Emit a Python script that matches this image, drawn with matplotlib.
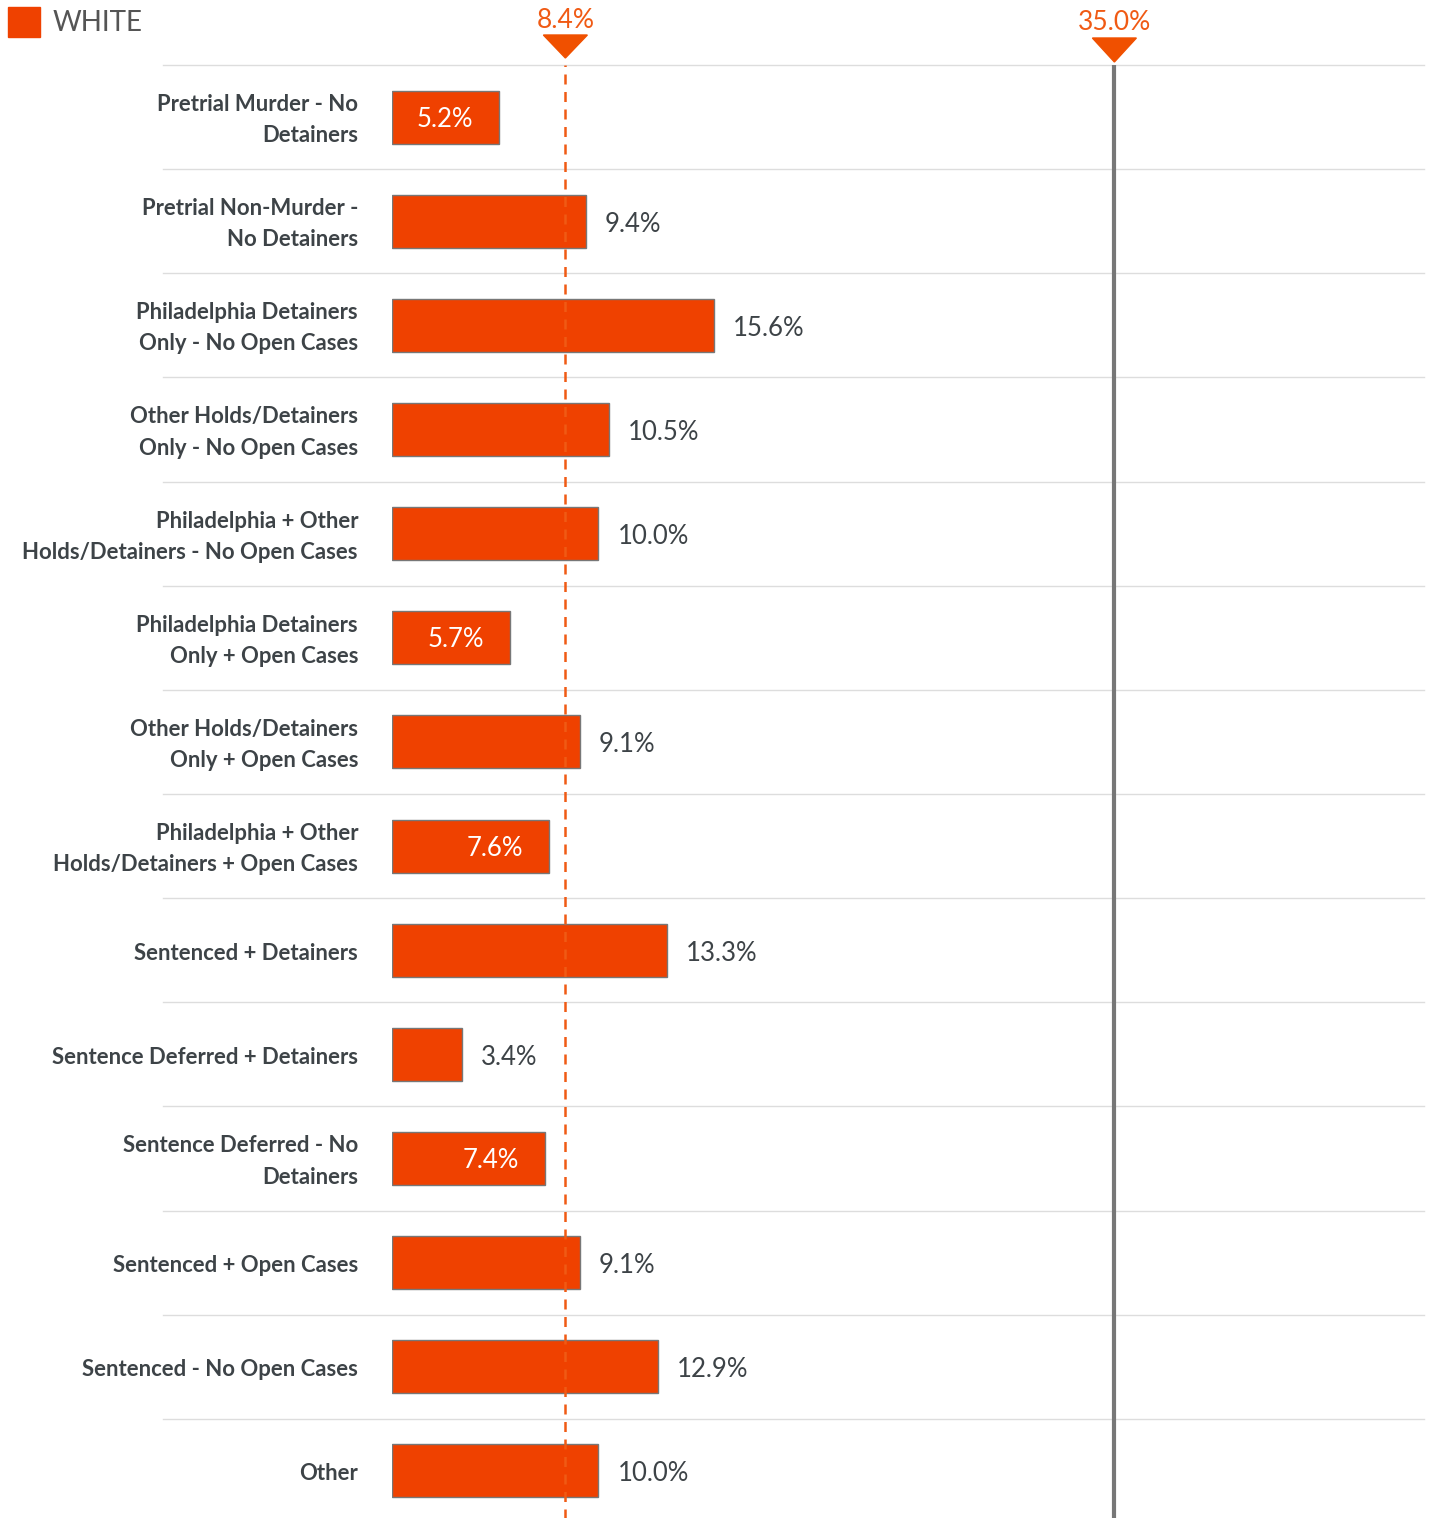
import numpy as np
import matplotlib.pyplot as plt
from matplotlib.transforms import blended_transform_factory

# データ
categories = [
    'Pretrial Murder - No\nDetainers',
    'Pretrial Non-Murder -\nNo Detainers',
    'Philadelphia Detainers\nOnly - No Open Cases',
    'Other Holds/Detainers\nOnly - No Open Cases',
    'Philadelphia + Other\nHolds/Detainers - No Open Cases',
    'Philadelphia Detainers\nOnly + Open Cases',
    'Other Holds/Detainers\nOnly + Open Cases',
    'Philadelphia + Other\nHolds/Detainers + Open Cases',
    'Sentenced + Detainers',
    'Sentence Deferred + Detainers',
    'Sentence Deferred - No\nDetainers',
    'Sentenced + Open Cases',
    'Sentenced - No Open Cases',
    'Other',
]
values = [5.2, 9.4, 15.6, 10.5, 10.0, 5.7, 9.1, 7.6, 13.3, 3.4, 7.4, 9.1, 12.9, 10.0]
inside_label = [True, False, False, False, False, True, False, True, False, False, True, False, False, False]
ref_avg = 8.4
ref_target = 35.0
series_name = 'WHITE'

bar_color = '#EF4100'
accent = '#F05A14'
text_color = '#3D4347'

plt.rcParams['font.family'] = ['Lato', 'DejaVu Sans']

W, H = 1431, 1518
fig = plt.figure(figsize=(W / 100, H / 100), dpi=100)
ax = fig.add_axes([392 / W, -5 / H, 1032 / W, 1458 / H])

y = np.arange(len(categories))
ax.barh(y, values, height=0.51, color=bar_color, edgecolor='#777777', linewidth=1.0, zorder=3)
ax.set_xlim(0, 50)
ax.set_ylim(len(categories) - 0.5, -0.5)
ax.axis('off')

# 行の区切り線（ラベル領域まで伸ばす）
trans = blended_transform_factory(ax.transAxes, ax.transData)
for i in range(len(categories)):
    ax.plot([-0.222, 1.0], [i - 0.5, i - 0.5], color='#DDDDDD', lw=1.0,
            transform=trans, clip_on=False, zorder=1)

# 参照線
ax.axvline(ref_avg, color=accent, lw=1.8, ls=(0, (4, 3)), zorder=4)
ax.axvline(ref_target, color='#777777', lw=3.0, zorder=2)

px = 50 / 1032          # 1ピクセルあたりのデータ単位（x）
py = 1 / 104.15         # 1ピクセルあたりのデータ単位（y）

# カテゴリラベル
for i, c in enumerate(categories):
    ax.text(-34 * px, i + 3 * py, c, ha='right', va='center', fontsize=15.9,
            fontweight='bold', color=text_color, linespacing=1.6)

# 値ラベル
for i, v in enumerate(values):
    if inside_label[i]:
        ax.text(v - 26 * px, i + 2 * py, f'{v:.1f}%', ha='right', va='center',
                fontsize=18.5, color='white', zorder=5)
    else:
        ax.text(v + 19 * px, i + 3 * py, f'{v:.1f}%', ha='left', va='center',
                fontsize=18.5, color=text_color, zorder=5)

# 三角マーカーと数値
ftrans = blended_transform_factory(ax.transData, fig.transFigure)
for xv, ytop, yapex, ylab in [(ref_avg, 35, 58, 20), (ref_target, 38, 62, 22)]:
    tri = plt.Polygon([[xv - 22 * px, 1 - ytop / H], [xv + 22 * px, 1 - ytop / H],
                       [xv, 1 - yapex / H]], closed=True, color='#F05000',
                      transform=ftrans, clip_on=False)
    fig.patches.append(tri)
    fig.text(xv, 1 - ylab / H, f'{xv:.1f}%', ha='center', va='center',
             fontsize=19, color=accent, transform=ftrans)

# 凡例
fig.patches.append(plt.Rectangle((8 / W, 1 - 37 / H), 32 / W, 30 / H,
                                 transform=fig.transFigure, color=bar_color))
fig.text(53 / W, 1 - 23 / H, series_name, ha='left', va='center',
         fontsize=20, color='#555555')

plt.savefig('out.png', dpi=100)
